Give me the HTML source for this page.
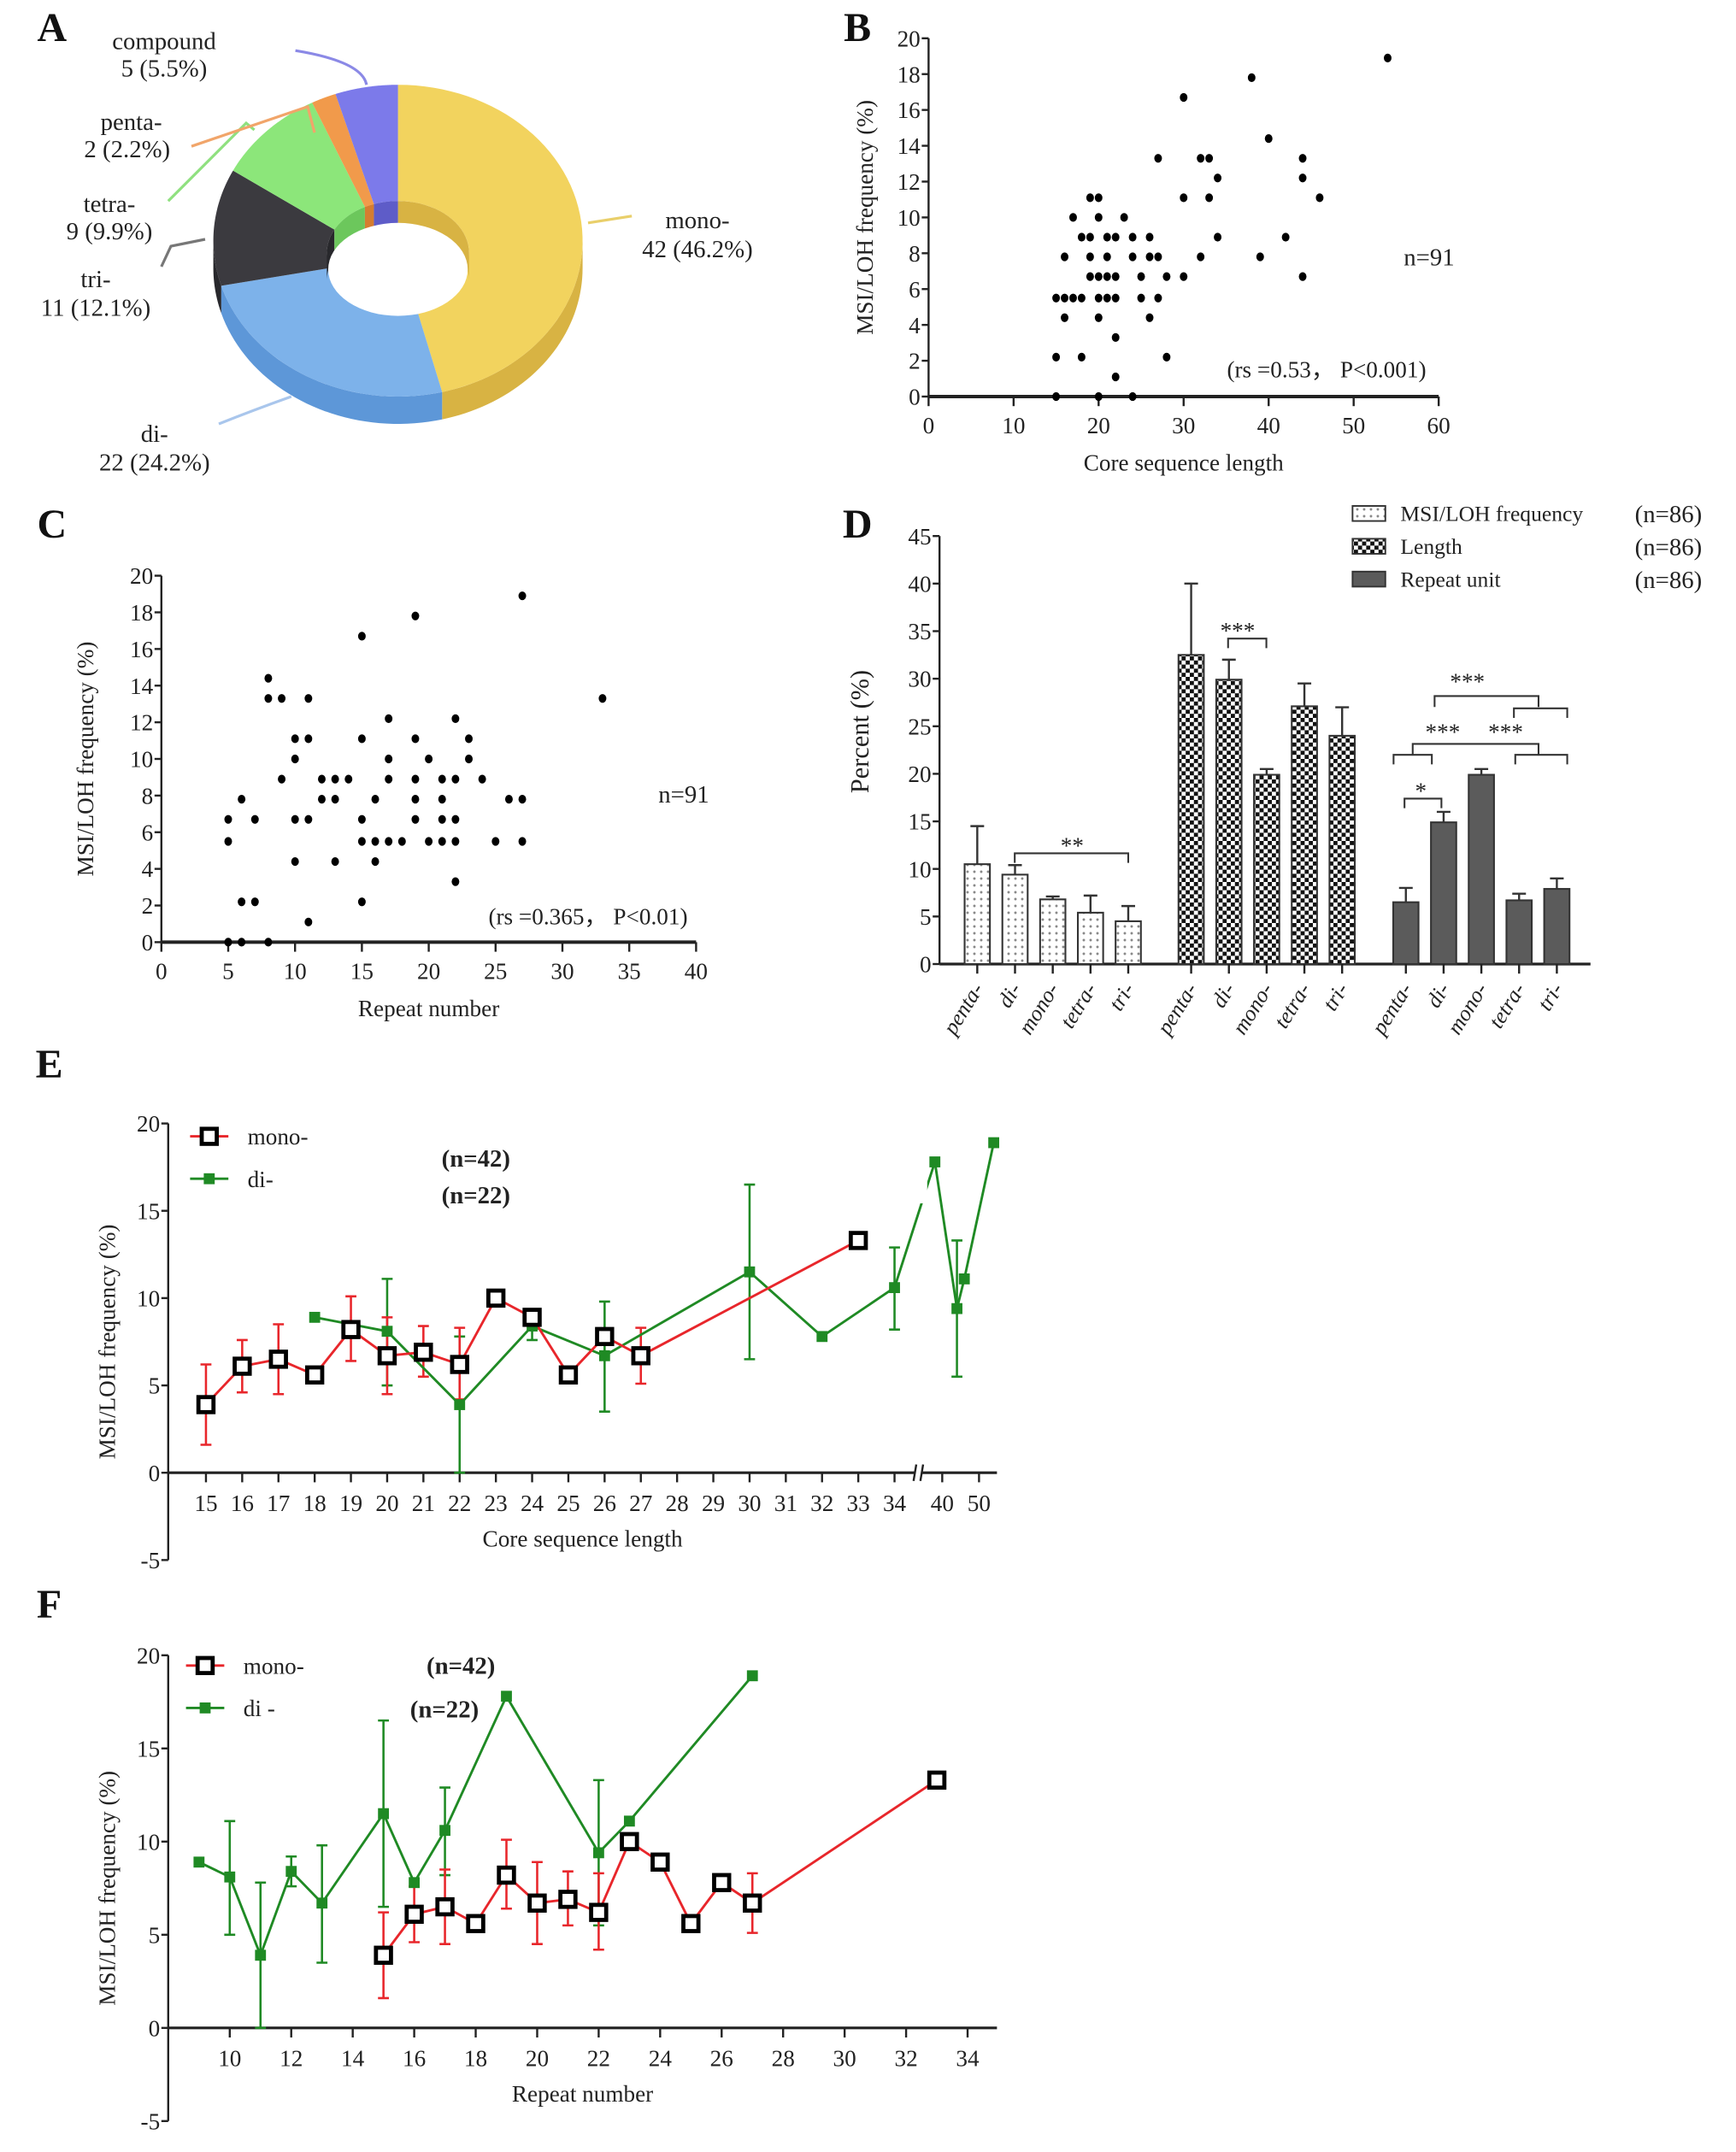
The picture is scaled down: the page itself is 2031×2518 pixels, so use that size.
<!DOCTYPE html>
<html><head><meta charset="utf-8">
<style>
html,body{margin:0;padding:0;background:#fff;}
svg{display:block;font-family:"Liberation Serif","DejaVu Serif",serif;}
</style></head>
<body>
<svg id="fig" xmlns="http://www.w3.org/2000/svg" width="2031" height="2518" viewBox="0 0 1269.4 1573.75" preserveAspectRatio="none">
<defs>
<pattern id="pDot" patternUnits="userSpaceOnUse" width="5" height="5"><rect width="5" height="5" fill="#fff"/><circle cx="2.5" cy="2.5" r="0.9" fill="#888"/></pattern>
<pattern id="pChk" patternUnits="userSpaceOnUse" width="6" height="6"><rect width="6" height="6" fill="#fff"/><rect width="3" height="3" fill="#111"/><rect x="3" y="3" width="3" height="3" fill="#111"/></pattern>
</defs>
<g id="root"></g>
</svg>
<script>
// ---------- DATA ----------
// Panel A
const pieLabels = ["mono-","di-","tri-","tetra-","penta-","compound"];
const pieCounts = [42,22,11,9,2,5];
const piePct = ["46.2%","24.2%","12.1%","9.9%","2.2%","5.5%"];
// Panel B
const bX = [15,20,24,22,15,18,28,22,16,20,26, 15,16,17,18,20,21,22,25,27, 19,20,21,22,25,28,30,44, 16,19,21,24,26,27,32,39, 18,19,21,22,24,26,34,42, 17,20,23, 19,20,30,33,46, 34,44, 27,32,33,44, 40,30,38,54];
const bY = [0,0,0,1.1,2.2,2.2,2.2,3.3,4.4,4.4,4.4, 5.5,5.5,5.5,5.5,5.5,5.5,5.5,5.5,5.5, 6.7,6.7,6.7,6.7,6.7,6.7,6.7,6.7, 7.8,7.8,7.8,7.8,7.8,7.8,7.8,7.8, 8.9,8.9,8.9,8.9,8.9,8.9,8.9,8.9, 10,10,10, 11.1,11.1,11.1,11.1,11.1, 12.2,12.2, 13.3,13.3,13.3,13.3, 14.4,16.7,17.8,18.9];
const bXTicks = [0,10,20,30,40,50,60];
const bYTicks = [0,2,4,6,8,10,12,14,16,18,20];
// Panel C
const cX = [5,6,8,11,6,7,15,22,10,13,16, 5,15,16,17,18,20,21,22,25,27, 5,7,10,11,15,19,21,22, 6,12,13,16,19,21,26,27, 9,12,13,14,17,19,21,22,24, 10,17,20,23, 10,11,15,19,23, 17,22, 8,9,11,33, 8,15,19,27];
const cY = [0,0,0,1.1,2.2,2.2,2.2,3.3,4.4,4.4,4.4, 5.5,5.5,5.5,5.5,5.5,5.5,5.5,5.5,5.5,5.5, 6.7,6.7,6.7,6.7,6.7,6.7,6.7,6.7, 7.8,7.8,7.8,7.8,7.8,7.8,7.8,7.8, 8.9,8.9,8.9,8.9,8.9,8.9,8.9,8.9,8.9, 10,10,10,10, 11.1,11.1,11.1,11.1,11.1, 12.2,12.2, 13.3,13.3,13.3,13.3, 14.4,16.7,17.8,18.9];
const cXTicks = [0,5,10,15,20,25,30,35,40];
const cYTicks = [0,2,4,6,8,10,12,14,16,18,20];
// Panel D
const dCats = ["penta-","di-","mono-","tetra-","tri-"];
const dGroups = ["MSI/LOH frequency","Length","Repeat unit"];
const dFreq = [10.5,9.4,6.8,5.4,4.5];
const dFreqErr = [14.5,10.4,7.1,7.2,6.1];
const dLen = [32.5,29.9,19.9,27.1,24.0];
const dLenErr = [40,32,20.5,29.5,27];
const dUnit = [6.5,14.9,19.9,6.7,7.9];
const dUnitErr = [8,16,20.5,7.4,9];
const dYTicks = [0,5,10,15,20,25,30,35,40,45];
// Panel E
const eMonoX = [15,16,17,18,19,20,21,22,23,24,25,26,27,33];
const eMonoY = [3.9,6.1,6.5,5.6,8.2,6.7,6.9,6.2,10,8.9,5.6,7.8,6.7,13.3];
const eMonoLo = [1.6,4.6,4.5,null,6.4,4.5,5.5,4.2,null,null,null,null,5.1,null];
const eMonoHi = [6.2,7.6,8.5,null,10.1,8.9,8.4,8.3,null,null,null,null,8.3,null];
const eDiX = [18,20,22,24,26,30,32,34,38,44,46,54];
const eDiY = [8.9,8.1,3.9,8.4,6.7,11.5,7.8,10.6,17.8,9.4,11.1,18.9];
const eDiLo = [null,5.0,0,7.6,3.5,6.5,null,8.2,null,5.5,null,null];
const eDiHi = [null,11.1,7.8,9.2,9.8,16.5,null,12.9,null,13.3,null,null];
const eXTicks = [15,16,17,18,19,20,21,22,23,24,25,26,27,28,29,30,31,32,33,34,40,50];
const eYTicks = [-5,0,5,10,15,20];
// Panel F
const fMonoX = [15,16,17,18,19,20,21,22,23,24,25,26,27,33];
const fMonoY = [3.9,6.1,6.5,5.6,8.2,6.7,6.9,6.2,10,8.9,5.6,7.8,6.7,13.3];
const fMonoLo = [1.6,4.6,4.5,null,6.4,4.5,5.5,4.2,null,null,null,null,5.1,null];
const fMonoHi = [6.2,7.6,8.5,null,10.1,8.9,8.4,8.3,null,null,null,null,8.3,null];
const fDiX = [9,10,11,12,13,15,16,17,19,22,23,27];
const fDiY = [8.9,8.1,3.9,8.4,6.7,11.5,7.8,10.6,17.8,9.4,11.1,18.9];
const fDiLo = [null,5.0,0,7.6,3.5,6.5,null,8.2,null,5.5,null,null];
const fDiHi = [null,11.1,7.8,9.2,9.8,16.5,null,12.9,null,13.3,null,null];
const fXTicks = [10,12,14,16,18,20,22,24,26,28,30,32,34];
const fYTicks = [-5,0,5,10,15,20];

// ---------- helpers ----------
const NS = "http://www.w3.org/2000/svg";
const root = document.getElementById("root");
function mk(tag, attrs, parent){
  const el = document.createElementNS(NS, tag);
  for (const k in attrs) el.setAttribute(k, attrs[k]);
  (parent||root).appendChild(el);
  return el;
}
function txt(str, x, y, size, anchor, parent, extra){
  const a = {x:x, y:y, "font-size":size, "text-anchor":anchor||"middle", fill:"#222"};
  if (extra) for (const k in extra) a[k]=extra[k];
  const t = mk("text", a, parent);
  t.textContent = str;
  return t;
}
let el;

// ---------- Panel letters ----------
const letters = [["A",38,30],["B",627,30],["C",38,393],["D",627,393],["E",36,788],["F",36,1183]];
letters.forEach(L=>{
  el = txt(L[0], L[1], L[2], 30, "middle", root, {"font-weight":"bold", fill:"#111"});
  
  
});

// ---------- Panel A: donut ----------
(function(){
  const g = mk("g", {});
  
  
  const cx=291, cy=176, rx=135, ry=114, icx=291, icy=185, irx=52, iry=38, depth=20;
  const tops = ["#f2d35e","#7db2ea","#3b3a3f","#8ce67a","#f19a4b","#7c7aea"];
  const sides = ["#d8b343","#5d97d8","#28282c","#6cc75c","#d57d30","#5e5cc8"];
  const total = pieCounts.reduce((a,b)=>a+b,0);
  const P=(t,a,b,c,d)=>[a+c*Math.sin(t), b-d*Math.cos(t)];
  let acc=0; const spans=[];
  pieCounts.forEach(v=>{ const a0=acc/total*2*Math.PI; acc+=v; spans.push([a0, acc/total*2*Math.PI]); });
  // sides
  spans.forEach((s,i)=>{
    const lo=Math.max(s[0],Math.PI/2), hi=Math.min(s[1],3*Math.PI/2);
    if (hi<=lo) return;
    const pts=[], N=40;
    for(let k=0;k<=N;k++){const t=lo+(hi-lo)*k/N; pts.push(P(t,cx,cy,rx,ry));}
    for(let k=N;k>=0;k--){const t=lo+(hi-lo)*k/N; const p=P(t,cx,cy,rx,ry); pts.push([p[0],p[1]+depth]);}
    el = mk("polygon",{points:pts.map(p=>p.join(",")).join(" "), fill:sides[i]}, g);
    
    
  });
  // tops
  spans.forEach((s,i)=>{
    const pts=[], N=60;
    for(let k=0;k<=N;k++){const t=s[0]+(s[1]-s[0])*k/N; pts.push(P(t,cx,cy,rx,ry));}
    for(let k=N;k>=0;k--){const t=s[0]+(s[1]-s[0])*k/N; pts.push(P(t,icx,icy,irx,iry));}
    el = mk("polygon",{points:pts.map(p=>p.join(",")).join(" "), fill:tops[i]}, g);
    
    
  });
  // inner wall (back side visible)
  spans.forEach((s,i)=>{
    const segs=[[Math.max(s[0],0),Math.min(s[1],Math.PI/2)],[Math.max(s[0],3*Math.PI/2),Math.min(s[1],2*Math.PI)]];
    segs.forEach(sg=>{
      if (sg[1]<=sg[0]) return;
      const pts=[],N=20;
      for(let k=0;k<=N;k++){const t=sg[0]+(sg[1]-sg[0])*k/N; pts.push(P(t,icx,icy,irx,iry));}
      for(let k=N;k>=0;k--){const t=sg[0]+(sg[1]-sg[0])*k/N; const p=P(t,icx,icy,irx,iry); pts.push([p[0],p[1]+depth]);}
      el = mk("polygon",{points:pts.map(p=>p.join(",")).join(" "), fill:sides[i]}, g);
      
      
    });
  });
  el = mk("ellipse",{cx:icx, cy:icy+depth/2+2, rx:irx-1, ry:iry-4, fill:"#fff"}, g);
  
  
  // leader lines
  const leaders = [
    ["M430,163 L462,158","#e9cf6a"],
    ["M160,310 Q185,300 213,290","#a9c6ec"],
    ["M118,195 L125,180 L150,175","#777"],
    ["M123,147 L180,90 L186,95","#8fe07f"],
    ["M140,107 L225,78 L230,97","#f1a56a"],
    ["M216,37 Q265,45 268,62","#8b89e6"]
  ];
  leaders.forEach((l,i)=>{
    el = mk("path",{d:l[0], stroke:l[1], "stroke-width":2, fill:"none"}, g);
    
    
  });
  const lbl = [[510,167,510,188],[113,323,113,344],[70,210,70,231],[80,155,80,175],[96,95,93,115],[120,36,120,56]];
  pieLabels.forEach((n,i)=>{
    el = txt(n, lbl[i][0], lbl[i][1], 18, "middle", g);
    
    
    el = txt(pieCounts[i] + " (" + piePct[i] + ")", lbl[i][2], lbl[i][3], 18, "middle", g);
    
    
  });
})();

// ---------- generic scatter ----------
function scatter(cfg){
  const g = mk("g", {});
  
  
  const sx = v => cfg.x0 + (v - cfg.xmin)/(cfg.xmax - cfg.xmin)*(cfg.x1 - cfg.x0);
  const sy = v => cfg.y0 - (v - cfg.ymin)/(cfg.ymax - cfg.ymin)*(cfg.y0 - cfg.y1);
  el = mk("line",{x1:cfg.x0,y1:cfg.y0,x2:cfg.x0,y2:cfg.y1,stroke:"#222","stroke-width":1.5}, g);
  
  
  el = mk("line",{x1:cfg.x0,y1:cfg.y0,x2:cfg.x1,y2:cfg.y0,stroke:"#222","stroke-width":2.5}, g);
  
  
  cfg.yt.forEach(v=>{
    el = mk("line",{x1:cfg.x0-5,y1:sy(v),x2:cfg.x0,y2:sy(v),stroke:"#222","stroke-width":1.5}, g);
    
    
    el = txt(String(v), cfg.x0-6, sy(v)+6, 17, "end", g);
    
    
  });
  cfg.xt.forEach(v=>{
    el = mk("line",{x1:sx(v),y1:cfg.y0,x2:sx(v),y2:cfg.y0+7,stroke:"#222","stroke-width":1.5}, g);
    
    
    el = txt(String(v), sx(v), cfg.y0+27, 17, "middle", g);
    
    
  });
  cfg.xs.forEach((v,i)=>{
    el = mk("ellipse",{cx:sx(v), cy:sy(cfg.ys[i]), rx:2.8, ry:3.2, fill:"#000"}, g);
    
    
  });
  el = txt(cfg.xlabel, (cfg.x0+cfg.x1)/2, cfg.y0+54, 17, "middle", g);
  
  
  el = txt(cfg.ylabel, 0, 0, 17, "middle", g, {transform:"translate("+cfg.ylx+","+((cfg.y0+cfg.y1)/2)+") rotate(-90)"});
  
  
  el = txt("n=91", cfg.nx, cfg.ny, 18, "middle", g);
  
  
  el = txt(cfg.stat, cfg.sx, cfg.sy, 17, "middle", g);
  
  
}
scatter({name:"scatter-length", x0:679,x1:1052,xmin:0,xmax:60,y0:290,y1:28,ymin:0,ymax:20,yt:bYTicks,xt:bXTicks,xs:bX,ys:bY,
  xlabel:"Core sequence length", ylabel:"MSI/LOH  frequency  (%)", ylx:638, nx:1045, ny:194, stat:"(rs =0.53， P<0.001)", sx:970, sy:276});
scatter({name:"scatter-repeat", x0:118,x1:509,xmin:0,xmax:40,y0:689,y1:421,ymin:0,ymax:20,yt:cYTicks,xt:cXTicks,xs:cX,ys:cY,
  xlabel:"Repeat number", ylabel:"MSI/LOH frequency  (%)", ylx:68, nx:500, ny:587, stat:"(rs =0.365， P<0.01)", sx:430, sy:676});

// ---------- Panel D: bars ----------
(function(){
  const g = mk("g", {});
  
  
  const y0=705, y1=392, xa=687, xe=1163;
  const sy = v => y0 - v/45*(y0-y1);
  const gx0 = [714.6, 871, 1028], step = 27.6, bw = 18.5;
  const xc = (gi,ci) => gx0[gi] + ci*step;
  el = mk("line",{x1:xa,y1:y0,x2:xa,y2:y1,stroke:"#222","stroke-width":1.5}, g);
  
  
  el = mk("line",{x1:xa,y1:y0,x2:xe,y2:y0,stroke:"#222","stroke-width":2}, g);
  
  
  dYTicks.forEach(v=>{
    el = mk("line",{x1:xa-5,y1:sy(v),x2:xa,y2:sy(v),stroke:"#222","stroke-width":1.5}, g);
    
    
    el = txt(String(v), xa-6, sy(v)+6, 17, "end", g);
    
    
  });
  el = txt("Percent (%)", 0, 0, 19, "middle", g, {transform:"translate(635,535) rotate(-90)"});
  
  
  const vals=[dFreq,dLen,dUnit], errs=[dFreqErr,dLenErr,dUnitErr], fills=["url(#pDot)","url(#pChk)","#5b5b5b"];
  vals.forEach((arr,gi)=>{
    arr.forEach((v,ci)=>{
      const x = xc(gi,ci);
      el = mk("line",{x1:x,y1:sy(v),x2:x,y2:sy(errs[gi][ci]),stroke:"#333","stroke-width":1.5}, g);
      
      
      el = mk("line",{x1:x-5,y1:sy(errs[gi][ci]),x2:x+5,y2:sy(errs[gi][ci]),stroke:"#333","stroke-width":1.5}, g);
      
      
      el = mk("rect",{x:x-bw/2,y:sy(v),width:bw,height:y0-sy(v),fill:fills[gi],stroke:"#333","stroke-width":1.3}, g);
      
      
      el = mk("line",{x1:x,y1:y0,x2:x,y2:y0+7,stroke:"#222","stroke-width":1.5}, g);
      
      
      el = txt(dCats[ci], 0, 0, 16, "end", g, {transform:"translate("+(x+5)+","+(y0+18)+") rotate(-58)", "font-style":"italic"});
      
      
    });
  });
  // significance brackets
  const br = (xa_,xb,y,h,dn)=>{
    el = mk("path",{d:"M"+xa_+","+(y+h)+" L"+xa_+","+y+" L"+xb+","+y+" L"+xb+","+(y+h),stroke:"#333","stroke-width":1.3,fill:"none"}, g);
    
    
  };
  br(742,825,624,7,'sig-bracket'); el=txt("**",784,624,17,"middle",g);  
  br(898,926,467,7,'sig-bracket'); el=txt("***",905,467,17,"middle",g);  
  br(1027,1054,584,7,'sig-bracket'); el=txt("*",1039,584,17,"middle",g);  
  br(1019,1047,552,7,'sig-bracket');
  br(1108,1146,552,7,'sig-bracket');
  br(1033,1125,544,8,'sig-bracket');
  br(1049,1125,509,8,'sig-bracket');
  br(1107,1146,518,7,'sig-bracket');
  el=txt("***",1055,541,17,"middle",g);  
  el=txt("***",1101,541,17,"middle",g);  
  el=txt("***",1073,504,17,"middle",g);  
  // legend
  const ly=[376,400,424];
  dGroups.forEach((n,i)=>{
    el = mk("rect",{x:989,y:ly[i]-6,width:24,height:11,fill:fills[i],stroke:"#333","stroke-width":1.2}, g);
    
    
    el = txt(n, 1024, ly[i]+5, 16, "start", g);
    
    
    el = txt("(n=86)", 1220, ly[i]+6, 18, "middle", g);
    
    
  });
})();

// ---------- Line charts E & F ----------
function lineChart(cfg){
  const g = mk("g", {});
  
  
  const sy = v => cfg.y0 - v/20*(cfg.y0-cfg.y20);
  const sx = cfg.sx;
  el = mk("line",{x1:cfg.ax,y1:sy(-5),x2:cfg.ax,y2:sy(20),stroke:"#222","stroke-width":1.5}, g);
  
  
  if (cfg.breakAt){
    el = mk("line",{x1:cfg.ax,y1:cfg.y0,x2:cfg.breakAt[0],y2:cfg.y0,stroke:"#222","stroke-width":2}, g);
    
    
    el = mk("line",{x1:cfg.breakAt[1],y1:cfg.y0,x2:cfg.xe,y2:cfg.y0,stroke:"#222","stroke-width":2}, g);
    
    
    el = mk("path",{d:"M"+(cfg.breakAt[0]-1)+","+(cfg.y0+6)+" L"+(cfg.breakAt[0]+1)+","+(cfg.y0-6)+" M"+(cfg.breakAt[1]-1)+","+(cfg.y0+6)+" L"+(cfg.breakAt[1]+1)+","+(cfg.y0-6),stroke:"#222","stroke-width":1.5}, g);
    
    
  } else {
    el = mk("line",{x1:cfg.ax,y1:cfg.y0,x2:cfg.xe,y2:cfg.y0,stroke:"#222","stroke-width":2}, g);
    
    
  }
  cfg.yt.forEach(v=>{
    el = mk("line",{x1:cfg.ax-5,y1:sy(v),x2:cfg.ax,y2:sy(v),stroke:"#222","stroke-width":1.5}, g);
    
    
    el = txt(String(v), cfg.ax-6, sy(v)+6, 17, "end", g);
    
    
  });
  cfg.xt.forEach(v=>{
    el = mk("line",{x1:sx(v),y1:cfg.y0,x2:sx(v),y2:cfg.y0+7,stroke:"#222","stroke-width":1.5}, g);
    
    
    el = txt(String(v), sx(v), cfg.y0+28, 17, "middle", g);
    
    
  });
  el = txt(cfg.xlabel, 426, cfg.y0+54, 17, "middle", g);
  
  
  el = txt("MSI/LOH frequency (%)", 0, 0, 17, "middle", g, {transform:"translate(84,"+sy(7.5)+") rotate(-90)"});
  
  
  const series = [
    {x:cfg.diX,y:cfg.diY,lo:cfg.diLo,hi:cfg.diHi,c:"#1f8a24",n:"di"},
    {x:cfg.monoX,y:cfg.monoY,lo:cfg.monoLo,hi:cfg.monoHi,c:"#e8262b",n:"mono"}
  ];
  const seriesG = {};
  // error bars first (di then mono), then lines and markers
  series.forEach(s=>{
    s.x.forEach((v,i)=>{
      if (s.lo[i]===null) return;
      const x=sx(v);
      el = mk("path",{d:"M"+x+","+sy(s.lo[i])+" L"+x+","+sy(s.hi[i])+" M"+(x-4)+","+sy(s.lo[i])+" L"+(x+4)+","+sy(s.lo[i])+" M"+(x-4)+","+sy(s.hi[i])+" L"+(x+4)+","+sy(s.hi[i]),stroke:s.c,"stroke-width":1.6,fill:"none"}, g);
      
      
    });
  });
  series.forEach(s=>{
    el = mk("polyline",{points:s.x.map((v,i)=>sx(v)+","+sy(s.y[i])).join(" "),stroke:s.c,"stroke-width":1.8,fill:"none"}, g);
    
    
  });
  if (cfg.gap){
    el = mk("rect",{x:cfg.gap[0],y:cfg.gap[1],width:cfg.gap[2],height:cfg.gap[3],fill:"#fff"}, g);
    
    
  }
  series.forEach(s=>{
    s.x.forEach((v,i)=>{
      const x=sx(v), y=sy(s.y[i]);
      if (s.n==="mono"){
        el = mk("rect",{x:x-5.5,y:y-5.5,width:11,height:11,fill:"#fff",stroke:"#000","stroke-width":3}, g);
      } else {
        el = mk("rect",{x:x-4,y:y-4,width:8,height:8,fill:s.c}, g);
      }
      
      
    });
  });
  // legend
  const L = cfg.leg;
  el = mk("line",{x1:L.x-14,y1:L.y1,x2:L.x+14,y2:L.y1,stroke:"#e8262b","stroke-width":1.8}, g);
  
  
  el = mk("rect",{x:L.x-5.5,y:L.y1-5.5,width:11,height:11,fill:"#fff",stroke:"#000","stroke-width":3}, g);
  
  
  el = txt("mono-", L.x+28, L.y1+6, 17, "start", g);
  
  
  el = mk("line",{x1:L.x-14,y1:L.y2,x2:L.x+14,y2:L.y2,stroke:"#1f8a24","stroke-width":1.8}, g);
  
  
  el = mk("rect",{x:L.x-4,y:L.y2-4,width:8,height:8,fill:"#1f8a24"}, g);
  
  
  el = txt(cfg.diLabel, L.x+28, L.y2+6, 17, "start", g);
  
  
  el = txt("(n=42)", L.n1x, L.n1y, 18, "middle", g, {"font-weight":"bold"});
  
  
  el = txt("(n=22)", L.n2x, L.n2y, 18, "middle", g, {"font-weight":"bold"});
  
  
}
const eSx = v => v<=34 ? 150.6 + (v-15)*26.5 : 683.6 + (v-38)*2.69;
lineChart({name:"line-chart-length", ax:123, xe:729, y0:1077, y20:821.6, sx:eSx, breakAt:[669,674],
  yt:eYTicks, xt:eXTicks, xlabel:"Core sequence length",
  monoX:eMonoX, monoY:eMonoY, monoLo:eMonoLo, monoHi:eMonoHi,
  diX:eDiX, diY:eDiY, diLo:eDiLo, diHi:eDiHi, gap:[664,840,14,40], diLabel:"di-",
  leg:{x:153,y1:831,y2:862,n1x:348,n1y:853,n2x:348,n2y:880}});
const fSx = v => 168 + (v-10)*22.48;
lineChart({name:"line-chart-repeat", ax:123, xe:729, y0:1483, y20:1210.5, sx:fSx, breakAt:null,
  yt:fYTicks, xt:fXTicks, xlabel:"Repeat number",
  monoX:fMonoX, monoY:fMonoY, monoLo:fMonoLo, monoHi:fMonoHi,
  diX:fDiX, diY:fDiY, diLo:fDiLo, diHi:fDiHi, gap:null, diLabel:"di -",
  leg:{x:150,y1:1218,y2:1249,n1x:337,n1y:1224,n2x:325,n2y:1256}});
</script>
</body></html>
